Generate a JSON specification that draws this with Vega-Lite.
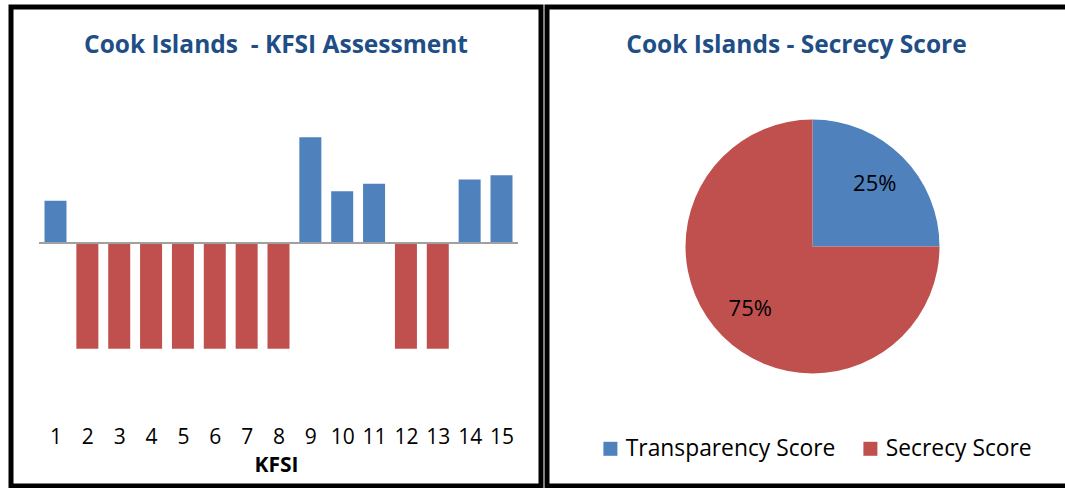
{
  "$schema": "https://vega.github.io/schema/vega-lite/v6.json",
  "background": "white",
  "padding": {"left": 8, "top": 4, "right": 0, "bottom": 0},
  "spacing": 0,
  "resolve": {"scale": {"color": "independent"}, "legend": {"color": "independent"}},
  "config": {
    "font": "Open Sans",
    "axis": {"labelFont": "Open Sans", "titleFont": "Open Sans"},
    "legend": {"labelFont": "Open Sans"},
    "title": {"font": "Open Sans"}
  },
  "hconcat": [
    {
      "width": 530,
      "height": 479,
      "view": {"stroke": "#000000", "strokeWidth": 5},
      "title": {
        "text": "Cook Islands\u00a0 - KFSI Assessment",
        "anchor": "middle",
        "frame": "group",
        "baseline": "alphabetic",
        "offset": -47,
        "dy": 23,
        "fontSize": 24.5,
        "fontWeight": "bold",
        "color": "#1F4E86"
      },
      "data": {
        "values": [
          {"k": 1, "v": 40},
          {"k": 2, "v": -100},
          {"k": 3, "v": -100},
          {"k": 4, "v": -100},
          {"k": 5, "v": -100},
          {"k": 6, "v": -100},
          {"k": 7, "v": -100},
          {"k": 8, "v": -100},
          {"k": 9, "v": 100},
          {"k": 10, "v": 49},
          {"k": 11, "v": 56},
          {"k": 12, "v": -100},
          {"k": 13, "v": -100},
          {"k": 14, "v": 60},
          {"k": 15, "v": 64}
        ]
      },
      "layer": [
        {
          "mark": {"type": "bar", "width": 22},
          "encoding": {
            "x": {
              "field": "k",
              "type": "quantitative",
              "scale": {"domain": [-0.397, 16.24], "nice": false, "zero": false, "padding": 0},
              "axis": {
                "values": [1, 2, 3, 4, 5, 6, 7, 8, 9, 10, 11, 12, 13, 14, 15],
                "tickCount": 30,
                "format": "d",
                "domain": false,
                "ticks": false,
                "grid": false,
                "offset": -45,
                "labelPadding": 2,
                "labelBaseline": "alphabetic",
                "labelFontSize": 21,
                "labelColor": "#000000",
                "labelFlush": false,
                "labelOverlap": false,
                "labelSeparation": 0,
                "title": "KFSI",
                "titleFontSize": 21,
                "titleFontWeight": "bold",
                "titleColor": "#000000",
                "titlePadding": 7
              }
            },
            "y": {
              "field": "v",
              "type": "quantitative",
              "scale": {"domain": [-229.9, 223.3], "nice": false, "zero": false, "padding": 0},
              "axis": null
            },
            "y2": {"datum": 0},
            "color": {
              "condition": {"test": "datum.v > 0", "value": "#4F81BD"},
              "value": "#C0504D"
            }
          }
        },
        {
          "mark": {"type": "rule", "color": "#A0A0A0", "strokeWidth": 2},
          "encoding": {
            "x": {"datum": 0.5},
            "x2": {"datum": 15.5},
            "y": {"datum": 0}
          }
        }
      ]
    },
    {
      "width": 531,
      "height": 479,
      "view": {"stroke": "#000000", "strokeWidth": 5},
      "title": {
        "text": "Cook Islands - Secrecy Score",
        "anchor": "middle",
        "frame": "group",
        "baseline": "alphabetic",
        "offset": -47,
        "dy": 23,
        "dx": -16,
        "fontSize": 24.5,
        "fontWeight": "bold",
        "color": "#1F4E86"
      },
      "data": {
        "values": [
          {"category": "Transparency Score", "value": 25, "label": "25%", "order": 1},
          {"category": "Secrecy Score", "value": 75, "label": "75%", "order": 2}
        ]
      },
      "encoding": {
        "theta": {"field": "value", "type": "quantitative", "stack": true},
        "order": {"field": "order", "type": "quantitative"}
      },
      "layer": [
        {
          "mark": {"type": "arc", "outerRadius": 127},
          "encoding": {
            "color": {
              "field": "category",
              "type": "nominal",
              "scale": {
                "domain": ["Transparency Score", "Secrecy Score"],
                "range": ["#4F81BD", "#C0504D"]
              },
              "legend": {
                "title": null,
                "orient": "none",
                "direction": "horizontal",
                "legendX": 52,
                "legendY": 430,
                "symbolType": "square",
                "symbolSize": 196,
                "symbolStrokeWidth": 0,
                "labelFontSize": 22.8,
                "labelColor": "#000000",
                "labelOffset": 4,
                "labelLimit": 400,
                "columnPadding": 23
              }
            }
          }
        },
        {
          "mark": {"type": "text", "radius": 88, "fontSize": 22, "color": "#000000", "font": "Open Sans"},
          "encoding": {
            "text": {"field": "label", "type": "nominal"}
          }
        }
      ]
    }
  ]
}
